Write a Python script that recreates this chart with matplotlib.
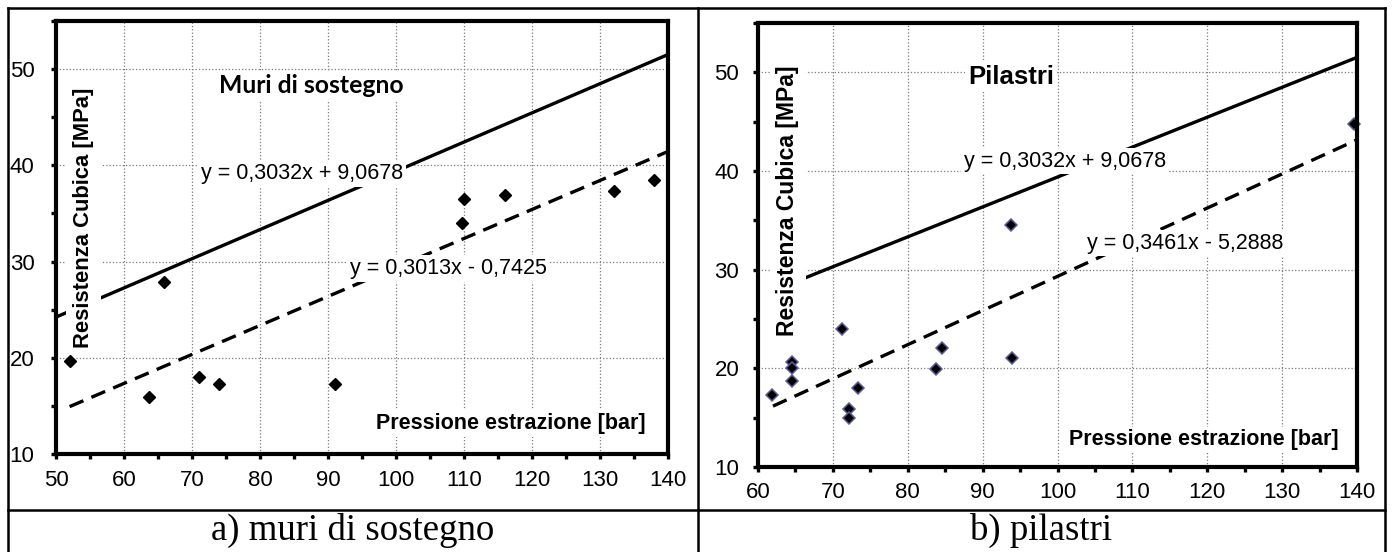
import matplotlib

matplotlib.use("Agg")
import matplotlib.pyplot as plt
from matplotlib.lines import Line2D
from matplotlib.ticker import MultipleLocator

plt.rcParams["font.family"] = ["Liberation Sans", "DejaVu Sans"]

# --- data -------------------------------------------------------------------
muri_x = [52, 63.7, 65.9, 71, 74, 91, 109.7, 110, 116, 132, 138]
muri_y = [19.7, 15.9, 27.9, 18.0, 17.3, 17.3, 34.0, 36.5, 36.9, 37.3, 38.5]

pil_x = [61.9, 64.5, 64.5, 64.5, 71.2, 72.2, 72.2, 73.4, 83.8, 84.6, 93.8, 93.9, 139.6]
pil_y = [17.3, 20.6, 20.0, 18.7, 24.0, 15.85, 14.95, 18.0, 19.95, 22.1, 34.5, 21.05, 44.8]

# reference law (solid) and fitted laws (dashed): slope, intercept
ref_law = (0.3032, 9.0678)
muri_fit = (0.3013, -0.7425)
pil_fit = (0.3461, -5.2888)

ref_label = "y = 0,3032x + 9,0678"
muri_fit_label = "y = 0,3013x - 0,7425"
pil_fit_label = "y = 0,3461x - 5,2888"

x_label = "Pressione estrazione [bar]"
y_label = "Resistenza Cubica [MPa]"
captions = ["a) muri di sostegno", "b) pilastri"]

W, H = 1394, 552


def px_rect(left, top, right, bottom):
    return [left / W, 1 - bottom / H, (right - left) / W, (bottom - top) / H]


def line_pts(coef, x0, x1):
    return [x0, x1], [coef[0] * x0 + coef[1], coef[0] * x1 + coef[1]]


def style_axes(ax, xlim, xpad, ypad):
    ax.set_xlim(*xlim)
    ax.set_ylim(10, 55)
    ax.xaxis.set_major_locator(MultipleLocator(10))
    ax.xaxis.set_minor_locator(MultipleLocator(5))
    ax.yaxis.set_major_locator(MultipleLocator(10))
    ax.yaxis.set_minor_locator(MultipleLocator(5))
    ax.set_yticks([10, 20, 30, 40, 50])
    for s in ax.spines.values():
        s.set_linewidth(3)
        s.set_zorder(6)
    ax.tick_params(which="both", direction="out", length=3.5, width=2.4, color="black")
    ax.tick_params(axis="x", which="major", labelsize=16, pad=xpad)
    ax.tick_params(axis="y", which="major", labelsize=16, pad=ypad)
    ax.grid(True, which="major", linestyle=":", color="#7a7a7a", linewidth=0.9)
    ax.set_axisbelow(True)


def boxed(ax, x, y, s, **kw):
    ax.text(x, y, s, ha="center", va="center", zorder=5,
            bbox=dict(facecolor="white", edgecolor="none", pad=kw.pop("pad", 2)), **kw)


fig = plt.figure(figsize=(W / 100, H / 100), dpi=100)

# --- a) muri di sostegno ----------------------------------------------------
ax1 = fig.add_axes(px_rect(56, 21, 668, 454))
style_axes(ax1, (50, 140), xpad=8, ypad=12)
ax1.plot(*line_pts(ref_law, 50, 140), color="black", lw=2.4, zorder=3)
ax1.plot(*line_pts(muri_fit, 52, 140), color="black", lw=2.4, ls=(0, (4.5, 2.6)), zorder=3)
ax1.plot(muri_x, muri_y, ls="none", marker="D", ms=6.5, color="black", mec="black", zorder=4)
boxed(ax1, 87.6, 48.3, "Muri di sostegno", fontsize=17.8, fontweight="bold",
      family=["Lato", "Liberation Sans"])
boxed(ax1, 86.2, 39.1, ref_label, fontsize=15.5)
boxed(ax1, 107.7, 29.3, muri_fit_label, fontsize=15.5)
boxed(ax1, 116.9, 13.2, x_label, fontsize=15.5, fontweight="bold")
boxed(ax1, 54.0, 34.5, y_label, fontsize=15.8, fontweight="bold", rotation=90, pad=5)

# --- b) pilastri ------------------------------------------------------------
ax2 = fig.add_axes(px_rect(758, 23, 1357, 467))
style_axes(ax2, (60, 140), xpad=7, ypad=10)
ax2.plot(*line_pts(ref_law, 62, 140), color="black", lw=2.4, zorder=3)
ax2.plot(*line_pts(pil_fit, 62, 140), color="black", lw=2.4, ls=(0, (4.5, 2.6)), zorder=3)
ax2.plot(pil_x, pil_y, ls="none", marker="D", ms=6.5, color="black", mec="#5c5c9c",
         mew=1.1, zorder=4, clip_on=False)
boxed(ax2, 93.8, 49.5, "Pilastri", fontsize=18.5, fontweight="bold")
boxed(ax2, 101.0, 41.0, ref_label, fontsize=15.5)
boxed(ax2, 117.0, 32.7, pil_fit_label, fontsize=15.5)
boxed(ax2, 119.5, 12.75, x_label, fontsize=15.5, fontweight="bold")
boxed(ax2, 64.0, 37.0, y_label, fontsize=16.5, fontweight="bold", rotation=90, pad=5)

# --- table frame and captions ----------------------------------------------
def fig_line(x0, y0, x1, y1):
    fig.add_artist(Line2D([x0 / W, x1 / W], [1 - y0 / H, 1 - y1 / H],
                          color="black", lw=1.8, transform=fig.transFigure))


fig_line(8, 8, 1385, 8)
fig_line(8, 8, 8, 552)
fig_line(1385, 8, 1385, 552)
fig_line(698, 8, 698, 552)
fig_line(8, 510, 1385, 510)

for cx, text in zip([353, 1041], captions):
    fig.text(cx / W, 1 - 530 / H, text, ha="center", va="center", fontsize=26.5,
             family=["Liberation Serif", "DejaVu Serif"])

fig.savefig("out.png", dpi=100)
